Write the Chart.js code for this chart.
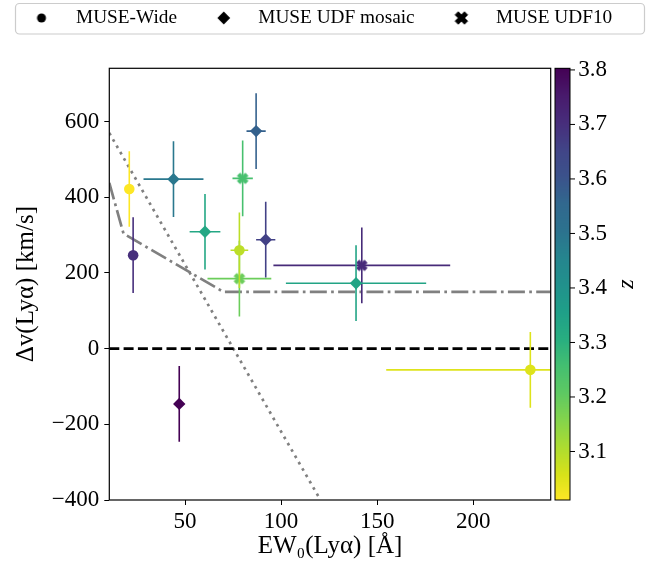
<!DOCTYPE html>
<html><head><meta charset="utf-8">
<script src="https://cdn.jsdelivr.net/npm/chart.js@4/dist/chart.umd.min.js"></script>
<style>html,body{margin:0;padding:0;background:#fff}canvas{display:block}</style>
</head><body>
<canvas id="c" width="659" height="567"></canvas>
<script>
// ---------------- data ----------------
const categories = ['MUSE-Wide', 'MUSE UDF mosaic', 'MUSE UDF10'];

const wideEW    = [21.0, 23.0, 78.3, 229.7];
const wideEWerr = [1.5, 1.0, 4.6, 75.0];
const wideDv    = [422, 247, 260, -56];
const wideDvErr = [100, 100, 100, 100];
const wideZ     = [3.011, 3.70, 3.09, 3.05];

const mosaicEW    = [44.0, 60.4, 87.0, 92.0, 139.0, 47.0];
const mosaicEWerr = [15.6, 8.0, 5.0, 5.0, 36.5, 0.0];
const mosaicDv    = [448, 309, 575, 288, 173, -146];
const mosaicDvErr = [100, 100, 100, 100, 100, 100];
const mosaicZ     = [3.49, 3.33, 3.57, 3.66, 3.34, 3.803];

const udf10EW    = [80.0, 78.3, 142.0];
const udf10EWerr = [5.3, 16.6, 46.0];
const udf10Dv    = [450, 185, 220];
const udf10DvErr = [100, 100, 100];
const udf10Z     = [3.25, 3.19, 3.71];

const zeroEW    = [10.6, 240.3];
const zeroDv    = [0, 0];
const dottedEW  = [10.6, 120.5];
const dottedDv  = [570, -400];
const dashDotEW = [10.6, 18.0, 70.0, 240.3];
const dashDotDv = [438, 304, 150, 150];

const xTicks = [50, 100, 150, 200];
const yTicks = [-400, -200, 0, 200, 400, 600];
const zTicks = [3.1, 3.2, 3.3, 3.4, 3.5, 3.6, 3.7, 3.8];
const xRange = [10.6, 240.3];
const yRange = [-400, 741];
const zRange = [3.011, 3.803];

// ---------------- colour map (viridis, reversed) ----------------
const VIR = [[68,1,84],[72,26,108],[71,45,123],[65,68,135],[59,82,139],[49,104,142],[44,114,142],[37,133,142],[33,145,140],[31,159,136],[40,174,128],[68,191,112],[94,201,98],[132,212,75],[173,220,48],[216,226,25],[253,231,37]];
const VIR_T = [0,16,32,48,64,80,96,112,128,144,160,176,192,208,224,240,255].map(i => i / 255);
function viridis(t) {
  t = Math.max(0, Math.min(1, t));
  let i = 0;
  while (i < VIR_T.length - 2 && t > VIR_T[i + 1]) i++;
  const f = (t - VIR_T[i]) / (VIR_T[i + 1] - VIR_T[i]);
  const c = VIR[i].map((v, k) => Math.round(v + f * (VIR[i + 1][k] - v)));
  return `rgb(${c[0]},${c[1]},${c[2]})`;
}
function zColor(z) { return viridis(1 - (z - zRange[0]) / (zRange[1] - zRange[0])); }

// ---------------- marker images ----------------
function xPath(g, cx, cy, k) {
  const base = [[-1,-3],[-1,-1],[-3,-1],[-3,1],[-1,1],[-1,3],[1,3],[1,1],[3,1],[3,-1],[1,-1],[1,-3]];
  const c = Math.SQRT1_2;
  base.forEach(([a, b], i) => {
    const x = cx + k * (a * c - b * c), y = cy + k * (a * c + b * c);
    if (i === 0) g.moveTo(x, y); else g.lineTo(x, y);
  });
  g.closePath();
}
function markerCanvas(kind, color, offX, w, h, size) {
  const cv = document.createElement('canvas');
  cv.width = w; cv.height = h;
  const g = cv.getContext('2d');
  g.fillStyle = color; g.strokeStyle = color; g.lineWidth = 1;
  const cx = w / 2 + offX, cy = h / 2;
  g.beginPath();
  if (kind === 'circle') g.arc(cx, cy, size, 0, Math.PI * 2);
  else if (kind === 'diamond') { g.moveTo(cx - size, cy); g.lineTo(cx, cy - size); g.lineTo(cx + size, cy); g.lineTo(cx, cy + size); g.closePath(); }
  else xPath(g, cx, cy, size);
  g.fill();
  if (kind === 'x') g.stroke();
  return cv;
}

const FONT = "'Liberation Serif', 'Times New Roman', serif";
const pts = (xs, ys) => xs.map((x, i) => ({ x, y: ys[i] }));

const legendMarkers = [
  markerCanvas('circle', '#000', 3.9, 40, 18, 4.5),
  markerCanvas('diamond', '#000', 3.9, 40, 18, 6.4),
  markerCanvas('x', '#000', 3.9, 40, 18, 2.2)
];

const datasets = [
  { label: categories[0], data: pts(wideEW, wideDv), errX: wideEWerr, errY: wideDvErr,
    backgroundColor: wideZ.map(zColor), borderColor: wideZ.map(zColor), borderWidth: 0,
    pointStyle: 'circle', pointRadius: 5.3, order: 1 },
  { label: categories[1], data: pts(mosaicEW, mosaicDv), errX: mosaicEWerr, errY: mosaicDvErr,
    backgroundColor: mosaicZ.map(zColor), borderColor: mosaicZ.map(zColor), borderWidth: 0,
    pointStyle: 'rectRot', pointRadius: 6.2, order: 1 },
  { label: categories[2], data: pts(udf10EW, udf10Dv), errX: udf10EWerr, errY: udf10DvErr,
    backgroundColor: udf10Z.map(zColor), borderColor: udf10Z.map(zColor), borderWidth: 0,
    pointStyle: udf10Z.map(z => markerCanvas('x', zColor(z), 0, 16, 16, 1.85)), pointRadius: 5.5, order: 1 },
  { label: 'zero', data: pts(zeroEW, zeroDv), showLine: true, borderColor: '#000', borderWidth: 2.7,
    borderDash: [10, 4.3], pointRadius: 0, order: 5, clip: 0 },
  { label: 'dotted', data: pts(dottedEW, dottedDv), showLine: true, borderColor: '#808080', borderWidth: 2.7,
    borderDash: [2.7, 4.6], pointRadius: 0, order: 6, clip: 0 },
  { label: 'dashdot', data: pts(dashDotEW, dashDotDv), showLine: true, borderColor: '#808080', borderWidth: 2.7,
    borderDash: [17, 4.3, 2.7, 4.3], pointRadius: 0, order: 6, clip: 0 }
];

// ---------------- plugins ----------------
const errorBars = {
  id: 'errorBars',
  beforeDatasetDraw(chart, args) {
    const ds = chart.data.datasets[args.index];
    if (!ds.errX) return;
    const { ctx, chartArea: a, scales: { x, y } } = chart;
    ctx.save();
    ctx.beginPath(); ctx.rect(a.left, a.top, a.width, a.height); ctx.clip();
    ctx.lineWidth = 1.6;
    ds.data.forEach((p, i) => {
      ctx.strokeStyle = ds.backgroundColor[i];
      const px = x.getPixelForValue(p.x), py = y.getPixelForValue(p.y);
      ctx.beginPath();
      if (ds.errX[i] > 0) {
        ctx.moveTo(x.getPixelForValue(p.x - ds.errX[i]), py);
        ctx.lineTo(x.getPixelForValue(p.x + ds.errX[i]), py);
      }
      ctx.moveTo(px, y.getPixelForValue(p.y - ds.errY[i]));
      ctx.lineTo(px, y.getPixelForValue(p.y + ds.errY[i]));
      ctx.stroke();
    });
    ctx.restore();
  }
};

const decor = {
  id: 'decor',
  afterDraw(chart) {
    const { ctx, chartArea: a } = chart;
    ctx.save();
    // axes frame
    ctx.strokeStyle = '#000'; ctx.lineWidth = 1.2;
    ctx.strokeRect(a.left, a.top, a.width, a.height);
    // colour bar
    const zs = chart.scales.cb;
    const x0 = a.right + 4.3, w = 15;
    for (let py = Math.floor(a.top); py < a.bottom; py++) {
      ctx.fillStyle = zColor(zs.getValueForPixel(py + 0.5));
      ctx.fillRect(x0, py, w, 1);
    }
    ctx.lineWidth = 1;
    ctx.strokeRect(x0, a.top, w, a.bottom - a.top);
    ctx.beginPath();
    zs.ticks.forEach(t => {
      const py = zs.getPixelForValue(t.value);
      ctx.moveTo(x0 + w, py); ctx.lineTo(x0 + w + 5, py);
    });
    ctx.stroke();
    // colour bar label
    ctx.fillStyle = '#000';
    ctx.font = 'italic 24px ' + FONT;
    ctx.textAlign = 'center'; ctx.textBaseline = 'middle';
    ctx.translate(zs.right - 32, (a.top + a.bottom) / 2);
    ctx.rotate(-Math.PI / 2);
    ctx.fillText('z', 0, 0);
    ctx.restore();
    // legend frame
    ctx.save();
    ctx.strokeStyle = '#cccccc'; ctx.lineWidth = 1.2;
    const lx = 15.5, ly = 3.5, lw = chart.width - 14.5 - lx, lh = 30.5, r = 4;
    ctx.beginPath();
    ctx.roundRect(lx, ly, lw, lh, r);
    ctx.stroke();
    ctx.restore();
  }
};

const tickFont = { family: FONT, size: 23 };
const titleFont = { family: FONT, size: 25 };

new Chart(document.getElementById('c'), {
  type: 'scatter',
  data: { datasets },
  options: {
    responsive: false,
    animation: false,
    events: [],
    layout: { padding: { left: -5.2, top: -5.65, right: 0, bottom: 0 } },
    plugins: {
      tooltip: { enabled: false },
      legend: {
        position: 'top', align: 'start',
        labels: {
          usePointStyle: true, pointStyleWidth: 57.6, padding: 14, color: '#000',
          font: { family: FONT, size: 19.3 },
          generateLabels: () => categories.map((c, i) => ({
            text: c, pointStyle: legendMarkers[i], fillStyle: '#000', strokeStyle: '#000',
            lineWidth: 0, hidden: false, datasetIndex: i, fontColor: '#000'
          }))
        }
      }
    },
    scales: {
      x: {
        type: 'linear', position: 'bottom', min: xRange[0], max: xRange[1],
        afterBuildTicks: s => { s.ticks = xTicks.map(v => ({ value: v })); },
        ticks: { font: tickFont, color: '#000', padding: 3, maxRotation: 0, callback: v => String(v) },
        grid: { drawOnChartArea: false, drawTicks: true, tickLength: 5, color: '#000', lineWidth: 1 },
        border: { display: false },
        title: { display: true, text: 'EW₀(Lyα) [Å]', font: titleFont, color: '#000', padding: { top: 0, bottom: 6 } },
        afterFit: s => { s.height = 67; }
      },
      xTop: {
        type: 'linear', position: 'top', axis: 'x', min: xRange[0], max: xRange[1],
        ticks: { display: false }, grid: { display: false, drawTicks: false }, border: { display: false },
        afterFit: s => { s.height = 30.65; }
      },
      y: {
        type: 'linear', position: 'left', min: yRange[0], max: yRange[1],
        afterBuildTicks: s => { s.ticks = yTicks.map(v => ({ value: v })); },
        ticks: { font: tickFont, color: '#000', padding: 5, callback: v => v < 0 ? '\u2212' + Math.abs(v) : String(v) },
        grid: { drawOnChartArea: false, drawTicks: true, tickLength: 5, color: '#000', lineWidth: 1 },
        border: { display: false },
        title: { display: true, text: 'Δv(Lyα) [km/s]', font: titleFont, color: '#000', padding: { top: 16.5, bottom: 0 } },
        afterFit: s => { s.width = 114.5; }
      },
      cb: {
        type: 'linear', position: 'right', axis: 'y', min: zRange[0], max: zRange[1],
        afterBuildTicks: s => { s.ticks = zTicks.map(v => ({ value: v })); },
        ticks: { font: tickFont, color: '#000', padding: 27.6, callback: v => v.toFixed(1) },
        grid: { display: false, drawTicks: false },
        border: { display: false },
        afterFit: s => { s.width = 108.3; }
      }
    }
  },
  plugins: [errorBars, decor]
});
</script>
</body></html>
